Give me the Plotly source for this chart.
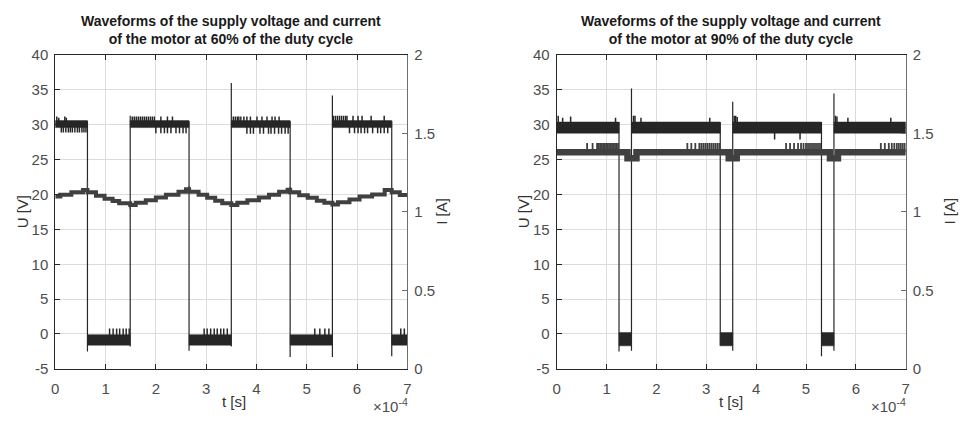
import plotly.graph_objects as go

W, H = 965, 421
T_SCALE = 1e-4
FONT = "Liberation Sans, Arial, sans-serif"
VCOL = "#262626"
ICOL = "#404040"

# ---------------- data (time in units of 1e-4 s) ----------------
# Left: 60 % duty cycle
L_edges = [0.64, 1.49, 2.66, 3.50, 4.67, 5.51, 6.69]
L_edge_lo = [-2.5, -1.8, -2.4, -1.8, -3.3, -3.3, -3.2]
L_edge_hi = [30.5, 31.3, 30.5, 36.0, 30.5, 34.2, 30.5]
L_start_high = True
L_hi_band = [29.6, 30.6]
L_lo_band = [-1.6, -0.1]
L_tick_t = [0.03, 0.07, 0.19, 0.22,
            0.12, 0.16, 0.21, 0.26, 0.30, 0.34, 0.39, 0.44, 0.48, 0.53, 0.57, 0.61,
            1.53, 1.57, 1.61, 1.65, 1.69, 1.73, 1.77, 1.81, 1.85, 1.89, 1.93, 1.97, 2.10, 2.23, 2.33,
            2.00, 2.10, 2.17, 2.23, 2.30, 2.40, 2.47, 2.54, 2.60,
            3.54, 3.58, 3.62, 3.65, 3.69, 3.75, 3.81, 3.88, 4.01, 4.11, 4.21, 4.31, 4.37, 4.45,
            3.81, 3.88, 3.94, 4.07, 4.14, 4.24, 4.29, 4.36, 4.44, 4.50, 4.57, 4.63,
            5.53, 5.57, 5.61, 5.65, 5.69, 5.73, 5.77, 5.80, 5.92, 6.02, 6.10, 6.28, 6.54,
            5.85, 5.95, 6.02, 6.08, 6.15, 6.21, 6.31, 6.41, 6.47, 6.54, 6.61,
            1.08, 1.15, 1.22, 1.28, 1.35, 1.41, 1.47,
            2.96, 3.02, 3.09, 3.16, 3.22, 3.29, 3.35, 3.42,
            5.16, 5.26, 5.36, 5.44,
            6.87, 6.94]
L_tick_tip = [31.2, 31.0, 31.2, 31.0] + [28.9] * 12 + \
             [31.2] * 15 + [28.8] * 9 + \
             [31.2] * 14 + [28.7] * 12 + \
             [31.3] * 13 + [28.8] * 11 + \
             [0.8] * 7 + [0.8] * 8 + [0.8] * 4 + [0.8] * 2

L_cur_t = [0.00, 0.10, 0.32, 0.55, 0.64, 0.81, 0.98, 1.14, 1.27, 1.49,
           1.60, 1.80, 2.00, 2.20, 2.45, 2.60, 2.66, 2.85, 3.02, 3.18, 3.32, 3.50,
           3.62, 3.82, 4.05, 4.25, 4.45, 4.62, 4.67, 4.85, 5.02, 5.20, 5.35, 5.51,
           5.62, 5.85, 6.05, 6.30, 6.55, 6.69, 6.85, 7.00]
L_cur_A = [1.098, 1.110, 1.125, 1.140, 1.125, 1.103, 1.084, 1.070, 1.055, 1.045,
           1.058, 1.075, 1.092, 1.110, 1.128, 1.145, 1.128, 1.110, 1.090, 1.072, 1.056, 1.045,
           1.058, 1.075, 1.092, 1.110, 1.128, 1.142, 1.125, 1.106, 1.090, 1.072, 1.058, 1.048,
           1.062, 1.080, 1.098, 1.112, 1.140, 1.125, 1.108, 1.108]
L_cur_spike_t = [0.64, 1.49, 2.66, 4.67]
L_cur_spike_A = [1.196, 1.018, 1.165, 1.160]

# Right: 90 % duty cycle
R_edges = [1.25, 1.50, 3.28, 3.53, 5.31, 5.56]
R_edge_lo = [-2.5, -2.4, -1.7, -2.4, -3.2, -2.4]
R_edge_hi = [30.4, 35.2, 30.4, 33.3, 30.4, 34.5]
R_start_high = True
R_hi_band = [28.8, 30.4]
R_lo_band = [-1.7, 0.2]
R_tick_t = [0.03, 0.12, 0.28, 1.18, 1.54, 1.57, 1.69, 3.07, 3.56, 3.59, 3.62,
            5.59, 5.62, 5.84, 6.70, 4.37, 4.88]
R_tick_tip = [31.3, 31.0, 31.2, 31.0, 31.3, 31.3, 31.0, 31.0, 31.3, 31.3, 31.1,
              31.3, 31.2, 31.0, 31.0, 27.9, 27.9]

R_cur_t = [0.00, 1.42, 1.60, 3.45, 3.61, 5.48, 5.64, 7.00]
R_cur_A = [1.380, 1.343, 1.380, 1.343, 1.380, 1.343, 1.380, 1.380]
R_cur_tick_t = [0.61, 0.72, 0.81, 0.84, 0.87, 0.90, 0.93, 0.96, 0.99, 1.02, 1.05,
                1.08, 1.11, 1.14, 1.17, 1.20, 1.23,
                2.62, 2.70, 2.78, 2.86, 2.90, 2.94, 2.98, 3.02, 3.06, 3.10, 3.14, 3.18, 3.22, 3.26,
                4.60, 4.68, 4.76, 4.84, 4.90, 4.95, 5.00, 5.04, 5.08, 5.12, 5.16, 5.20, 5.24, 5.28,
                6.50, 6.58, 6.66, 6.72, 6.77, 6.82, 6.86, 6.90, 6.94, 6.98]
R_cur_tick_A = [1.44] * len(R_cur_tick_t)

x_ticks = [0, 1, 2, 3, 4, 5, 6, 7]
u_ticks = [-5, 0, 5, 10, 15, 20, 25, 30, 35, 40]
u_ticklabels = ["-5", "0", "5", "10", "15", "20", "25", "30", "35", "40"]
i_ticks = [0, 0.5, 1, 1.5, 2]
i_ticklabels = ["0", "0.5", "1", "1.5", "2"]


# ---------------- trace builders ----------------
def sx(v):
    return v * T_SCALE


def volt_traces(edges, lo_tips, hi_tips, start_high, hi_band, lo_band, tick_t, tick_tip, xa, ya):
    hi_mid = sum(hi_band) / 2
    lo_mid = sum(lo_band) / 2
    high = start_high
    xs, ys = [sx(0)], [hi_mid if high else lo_mid]
    for e, lo, hi in zip(edges, lo_tips, hi_tips):
        cur = hi_mid if high else lo_mid
        xs += [sx(e), sx(e), sx(e)]
        if high:
            ys += [cur, hi, lo]
        else:
            ys += [cur, lo, hi]
        high = not high
        xs.append(sx(e))
        ys.append(hi_mid if high else lo_mid)
    xs.append(sx(7))
    ys.append(hi_mid if high else lo_mid)
    main = go.Scatter(x=xs, y=ys, mode="lines", line=dict(color=VCOL, width=1.2),
                      xaxis=xa, yaxis=ya, hoverinfo="skip", showlegend=False)
    bx, by = [], []
    bounds = [0] + list(edges) + [7]
    high = start_high
    for a, b in zip(bounds[:-1], bounds[1:]):
        bot, top = (hi_band if high else lo_band)
        bx += [sx(a), sx(b), sx(b), sx(a), sx(a), None]
        by += [top, top, bot, bot, top, None]
        high = not high
    band = go.Scatter(x=bx, y=by, mode="lines", fill="toself", fillcolor=VCOL,
                      line=dict(color=VCOL, width=0.5), xaxis=xa, yaxis=ya,
                      hoverinfo="skip", showlegend=False)
    tx, ty = [], []
    for t, tip in zip(tick_t, tick_tip):
        base = hi_mid if tip > 15 else lo_mid
        tx += [sx(t), sx(t), None]
        ty += [base, tip, None]
    ticks = go.Scatter(x=tx, y=ty, mode="lines", line=dict(color=VCOL, width=1.5),
                       xaxis=xa, yaxis=ya, hoverinfo="skip", showlegend=False)
    return [band, main, ticks]


def cur_traces(ts, vals, width, spike_t, spike_v, xa, ya, spike_width=1.2):
    step = go.Scatter(x=[sx(t) for t in ts], y=vals, mode="lines", line_shape="hv",
                      line=dict(color=ICOL, width=width), xaxis=xa, yaxis=ya,
                      hoverinfo="skip", showlegend=False)
    out = [step]
    if spike_t:
        tx, ty = [], []
        for t, v in zip(spike_t, spike_v):
            base = vals[0]
            for tt, vv in zip(ts, vals):
                if tt <= t:
                    base = vv
            tx += [sx(t), sx(t), None]
            ty += [base, v, None]
        out.append(go.Scatter(x=tx, y=ty, mode="lines", line=dict(color=ICOL, width=spike_width),
                              xaxis=xa, yaxis=ya, hoverinfo="skip", showlegend=False))
    return out


traces = []
traces += cur_traces(L_cur_t, L_cur_A, 4, L_cur_spike_t, L_cur_spike_A, "x", "y2")
traces += volt_traces(L_edges, L_edge_lo, L_edge_hi, L_start_high, L_hi_band, L_lo_band,
                      L_tick_t, L_tick_tip, "x", "y")
traces += volt_traces(R_edges, R_edge_lo, R_edge_hi, R_start_high, R_hi_band, R_lo_band,
                      R_tick_t, R_tick_tip, "x2", "y3")
traces += cur_traces(R_cur_t, R_cur_A, 6.5, R_cur_tick_t, R_cur_tick_A, "x2", "y4", 1.8)

fig = go.Figure(data=traces)

# ---------------- layout ----------------
px_x = lambda p: p / W
px_y = lambda p: 1 - p / H

LD = [px_x(51.7), px_x(406.7)]
RD = [px_x(557.3), px_x(909.3)]
YD = [px_y(375), px_y(48)]

tickfont = dict(family=FONT, size=15, color="#4d4d4d")
grid = "#dcdcdc"


def xaxis(domain, anchor):
    return dict(domain=domain, anchor=anchor, range=[0, 7 * T_SCALE],
                tickvals=[sx(v) for v in x_ticks], ticktext=[str(v) for v in x_ticks],
                showline=True, linecolor=VCOL, linewidth=1, mirror="ticks",
                ticks="inside", ticklen=5, tickcolor=VCOL, ticklabelstandoff=6,
                showgrid=True, gridcolor=grid, gridwidth=1, zeroline=False,
                tickfont=tickfont, fixedrange=True)


def uaxis(anchor):
    return dict(domain=YD, anchor=anchor, range=[-5, 40], tickvals=u_ticks, ticktext=u_ticklabels,
                showline=True, linecolor=VCOL, linewidth=1, mirror=False,
                ticks="inside", ticklen=5, tickcolor=VCOL, ticklabelstandoff=3,
                showgrid=True, gridcolor=grid, gridwidth=1, zeroline=False,
                tickfont=tickfont, fixedrange=True)


def iaxis(anchor, over):
    return dict(domain=YD, anchor=anchor, overlaying=over, side="right", range=[0, 2],
                tickvals=i_ticks, ticktext=i_ticklabels,
                showline=True, linecolor="#6e6e6e", linewidth=1,
                ticks="inside", ticklen=5, tickcolor="#6e6e6e", ticklabelstandoff=3,
                showgrid=False, zeroline=False, tickfont=tickfont, fixedrange=True)


ann_font = dict(family=FONT, size=15, color="#333333")
title_font = dict(family=FONT, size=14, color="#1a1a1a")
sci_font = dict(family=FONT, size=15, color="#4d4d4d")
annotations = [
    dict(text="<b>Waveforms of the supply voltage and current<br>of the motor at 60% of the duty cycle</b>",
         x=(LD[0] + LD[1]) / 2, y=px_y(42), xref="paper", yref="paper",
         xanchor="center", yanchor="bottom", showarrow=False, font=title_font),
    dict(text="<b>Waveforms of the supply voltage and current<br>of the motor at 90% of the duty cycle</b>",
         x=(RD[0] + RD[1]) / 2, y=px_y(42), xref="paper", yref="paper",
         xanchor="center", yanchor="bottom", showarrow=False, font=title_font),
    dict(text="U [V]", x=px_x(19), y=px_y(211), xref="paper", yref="paper", textangle=-90,
         xanchor="center", yanchor="middle", showarrow=False, font=ann_font),
    dict(text="I [A]", x=px_x(441), y=px_y(211), xref="paper", yref="paper", textangle=-90,
         xanchor="center", yanchor="middle", showarrow=False, font=ann_font),
    dict(text="U [V]", x=px_x(524), y=px_y(211), xref="paper", yref="paper", textangle=-90,
         xanchor="center", yanchor="middle", showarrow=False, font=ann_font),
    dict(text="I [A]", x=px_x(953), y=px_y(211), xref="paper", yref="paper", textangle=-90,
         xanchor="center", yanchor="middle", showarrow=False, font=ann_font),
    dict(text="t [s]", x=px_x(232), y=px_y(409), xref="paper", yref="paper",
         xanchor="center", yanchor="middle", showarrow=False, font=ann_font),
    dict(text="t [s]", x=px_x(733), y=px_y(409), xref="paper", yref="paper",
         xanchor="center", yanchor="middle", showarrow=False, font=ann_font),
    dict(text="×10<sup>-4</sup>", x=px_x(409), y=px_y(413), xref="paper", yref="paper",
         xanchor="right", yanchor="middle", showarrow=False, font=sci_font),
    dict(text="×10<sup>-4</sup>", x=px_x(912), y=px_y(413), xref="paper", yref="paper",
         xanchor="right", yanchor="middle", showarrow=False, font=sci_font),
]

fig.update_layout(
    width=W, height=H, autosize=False,
    margin=dict(l=0, r=0, t=0, b=0),
    paper_bgcolor="white", plot_bgcolor="white",
    showlegend=False,
    xaxis=xaxis(LD, "y"),
    yaxis=uaxis("x"),
    yaxis2=iaxis("x", "y"),
    xaxis2=xaxis(RD, "y3"),
    yaxis3=uaxis("x2"),
    yaxis4=iaxis("x2", "y3"),
    annotations=annotations,
)

fig.write_html("out.html", config={"displayModeBar": False})
